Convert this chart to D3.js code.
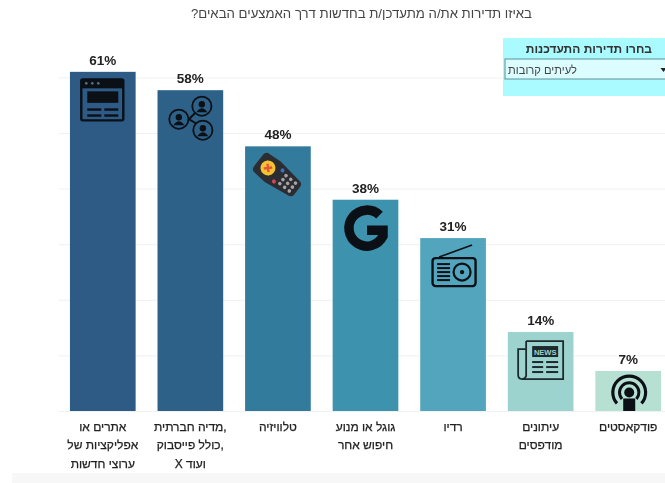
<!DOCTYPE html>
<html lang="he"><head><meta charset="utf-8">
<script src="https://cdn.jsdelivr.net/npm/d3@7/dist/d3.min.js"></script>
<style>
html,body{margin:0;padding:0;background:#fff;overflow:hidden}
svg{display:block;filter:blur(.4px)}
text{font-family:"Liberation Sans",Arial,sans-serif}
</style></head><body><div id="c"></div>
<script>
const categories=[
 ["אתרים או","אפליקציות של","ערוצי חדשות"],
 ["מדיה חברתית,","כולל פייסבוק,","X ועוד"],
 ["טלוויזיה"],
 ["גוגל או מנוע","חיפוש אחר"],
 ["רדיו"],
 ["עיתונים","מודפסים"],
 ["פודקאסטים"]];
const keys=["web","social","tv","google","radio","news","podcast"];
const values=[61,57.7,47.6,38,31.1,14.2,7.2];
const valueLabels=["61%","58%","48%","38%","31%","14%","7%"];
const colours=["#2d5b86","#2e6188","#337b9c","#3d92ae","#52a5bc","#9dd3ce","#b5e0d2"];
const gridTicks=[0,10,20,30,40,50,60];
const titleText="באיזו תדירות את/ה מתעדכן/ת בחדשות דרך האמצעים הבאים?";
const filterTitle="בחרו תדירות התעדכנות";
const filterValue="לעיתים קרובות";

const W=665,H=483;
const svg=d3.select("#c").append("svg").attr("width",W).attr("height",H);
svg.append("rect").attr("x",12).attr("y",473).attr("width",W-12).attr("height",10).attr("fill","#f7f7f7");

const y=d3.scaleLinear().domain([0,60]).range([411,77.4]);
const x=d3.scaleBand().domain(d3.range(values.length)).range([59,672]).paddingInner(.25).paddingOuter(.125);

const axis=d3.axisLeft(y).tickValues(gridTicks).tickSize(-(W-59)).tickFormat("");
const ag=svg.append("g").attr("transform","translate(59,0)").call(axis);
ag.select(".domain").remove();
ag.selectAll("line").attr("stroke","#f1f1f1").attr("stroke-width",1);

svg.append("text").attr("x",532).attr("y",18).attr("direction","rtl").attr("text-anchor","start")
 .attr("font-size",13.2).attr("fill","#444").text(titleText);

svg.selectAll(".bar").data(values).join("rect").attr("class","bar")
 .attr("x",(d,i)=>x(i)).attr("y",d=>y(d)).attr("width",x.bandwidth()).attr("height",d=>y(0)-y(d))
 .attr("fill",(d,i)=>colours[i]);

svg.selectAll(".val").data(values).join("text").attr("class","val")
 .attr("x",(d,i)=>x(i)+x.bandwidth()/2).attr("y",d=>y(d)-7).attr("text-anchor","middle")
 .attr("font-size",13.5).attr("font-weight","700").attr("fill","#222").text((d,i)=>valueLabels[i]);

categories.forEach((lines,i)=>{
  const t=svg.append("text").attr("text-anchor","middle").attr("direction","ltr")
    .attr("font-size",12).attr("fill","#222").attr("stroke","#222").attr("stroke-width",.25);
  lines.forEach((l,j)=>t.append("tspan").attr("x",x(i)+x.bandwidth()/2).attr("y",431+j*18.3).text(l));
});

// filter panel
svg.append("rect").attr("x",503).attr("y",38).attr("width",162).attr("height",58).attr("fill","#a9fbff");
svg.append("rect").attr("x",505).attr("y",59).attr("width",162).attr("height",20).attr("fill","#dcfdff").attr("stroke","#5f8f95").attr("stroke-width",1);
svg.append("text").attr("x",652).attr("y",53).attr("direction","rtl").attr("font-size",12).attr("font-weight","700").attr("fill","#333").text(filterTitle);
svg.append("text").attr("x",577).attr("y",74).attr("direction","rtl").attr("font-size",11.2).attr("fill","#444").text(filterValue);
svg.append("path").attr("d","M660.5 68h6l-3 4z").attr("fill","#222");

// icons: drawn in a local box, placed from the scales
const K="#0b1016";
const icons={
 web(g){
  g.append("rect").attr("x",-21).attr("y",1).attr("width",42).attr("height",41).attr("rx",1.5).attr("fill","none").attr("stroke",K).attr("stroke-width",2.4);
  g.append("rect").attr("x",-21).attr("y",1).attr("width",42).attr("height",9).attr("fill",K);
  [-16,-10,-4].forEach(c=>g.append("circle").attr("cx",c).attr("cy",5).attr("r",1.3).attr("fill","#55708c"));
  g.append("rect").attr("x",-15).attr("y",13).attr("width",31).attr("height",11.5).attr("fill",K);
  [30,36].forEach(v=>{g.append("rect").attr("x",-15).attr("y",v).attr("width",14).attr("height",2.4).attr("fill",K);
   g.append("rect").attr("x",2).attr("y",v).attr("width",14).attr("height",2.4).attr("fill",K);});
 },
 social(g){
  const nodes=[[-12,23.5],[11,10.5],[12,34.5]];
  g.append("path").attr("d","M-2 23.5L4 17.5L11 10.5M-2 23.5L4 27L12 34.5").attr("stroke",K).attr("stroke-width",2).attr("fill","none");
  nodes.forEach(([a,b])=>{
   g.append("circle").attr("cx",a).attr("cy",b).attr("r",9.6).attr("fill","#2e6188").attr("stroke",K).attr("stroke-width",1.8);
   g.append("circle").attr("cx",a).attr("cy",b-2).attr("r",3.2).attr("fill",K);
   g.append("path").attr("d",`M${a-5.5} ${b+6}q5.5 -8 11 0z`).attr("fill",K);
  });
 },
 tv(g){
  const r=g.append("g").attr("transform","translate(0,29) rotate(38)");
  r.append("path").attr("d","M-24 -7Q-24 -12 -19 -12L-6 -13L22 -9Q25 -8 25 -5L25 5Q25 8 22 9L-6 13L-19 12Q-24 12 -24 7Z").attr("fill","#2b2d33");
  r.append("circle").attr("cx",-12).attr("cy",0).attr("r",7.5).attr("fill","#f4c430");
  r.append("path").attr("d","M-15 -3L-9 3M-9 -3L-15 3").attr("stroke","#e5533d").attr("stroke-width",2.4);
  r.append("circle").attr("cx",1).attr("cy",-7).attr("r",2).attr("fill","#3c6fc9");
  r.append("circle").attr("cx",1).attr("cy",7).attr("r",2).attr("fill","#d5455a");
  [7,13,19].forEach(a=>[-5,0,5].forEach(b=>r.append("circle").attr("cx",a).attr("cy",b).attr("r",1.8).attr("fill","#a5a5a5")));
 },
 google(g){
  g.append("path").attr("d","M16.5 12.5A18 18 0 1 0 20 33.5L20 27.5L4 27.5")
   .attr("fill","none").attr("stroke",K).attr("stroke-width",9.5);
 },
 radio(g){
  g.append("rect").attr("x",-21.5).attr("y",19).attr("width",43).attr("height",28).attr("rx",3).attr("fill","none").attr("stroke",K).attr("stroke-width",2.4);
  g.append("path").attr("d","M-15 18L18 6").attr("stroke",K).attr("stroke-width",1.6);
  [24,28,32,36,40].forEach(v=>g.append("rect").attr("x",-17).attr("y",v).attr("width",13).attr("height",2).attr("fill",K));
  g.append("circle").attr("cx",8).attr("cy",33).attr("r",8.5).attr("fill","none").attr("stroke",K).attr("stroke-width",2.2);
  g.append("circle").attr("cx",8).attr("cy",33).attr("r",2.2).attr("fill",K);
 },
 news(g){
  g.append("path").attr("d","M-14 9H23V47H-18").attr("fill","none").attr("stroke","#1d2a2e").attr("stroke-width",1.8);
  g.append("path").attr("d","M-14 9V44Q-15 47 -18 47Q-22 47 -22 43V17H-14").attr("fill","none").attr("stroke","#1d2a2e").attr("stroke-width",1.8);
  g.append("rect").attr("x",-8).attr("y",14).attr("width",26).attr("height",11).attr("fill","#1d2a2e");
  g.append("text").attr("x",5).attr("y",22.5).attr("text-anchor","middle").attr("font-size",7.5).attr("font-weight","700").attr("fill","#9dd3ce").text("NEWS");
  [29,34,39].forEach(v=>{g.append("rect").attr("x",-8).attr("y",v).attr("width",11).attr("height",2).attr("fill","#1d2a2e");
   g.append("rect").attr("x",6).attr("y",v).attr("width",12).attr("height",2).attr("fill","#1d2a2e");});
 },
 podcast(g){
  const a=d3.arc().startAngle(-2.3).endAngle(2.3);
  g.append("path").attr("transform","translate(0,18)").attr("d",a({innerRadius:14.8,outerRadius:18})).attr("fill",K);
  g.append("path").attr("transform","translate(0,18)").attr("d",a({innerRadius:8.2,outerRadius:11.2})).attr("fill",K);
  g.append("circle").attr("cx",0).attr("cy",18).attr("r",5).attr("fill",K);
  g.append("rect").attr("x",-6).attr("y",24).attr("width",12).attr("height",12.5).attr("fill",K);
 }
};
const iconNudge={web:[-.5,6.5],social:[.5,5.5],tv:[-.5,0],google:[-2.5,3],radio:[1,1],news:[-.5,0],podcast:[1,3.5]};
keys.forEach((k,i)=>{
 const n=iconNudge[k];
 const g=svg.append("g").attr("transform",`translate(${x(i)+x.bandwidth()/2+n[0]},${y(values[i])+n[1]})`);
 icons[k](g);
});
</script></body></html>
